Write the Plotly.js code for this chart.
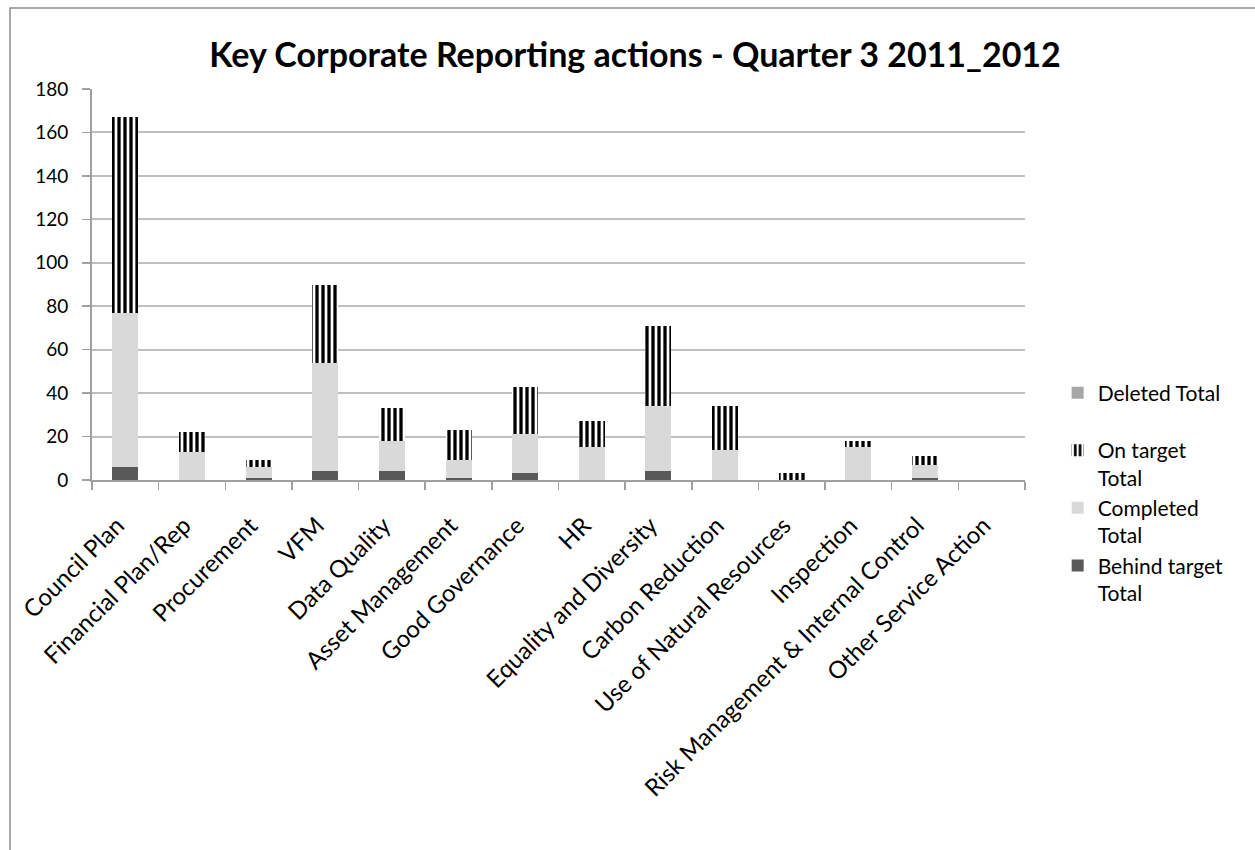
<!DOCTYPE html>
<html>
<head>
<meta charset="utf-8">
<script src="https://cdn.plot.ly/plotly-3.0.1.min.js"></script>
<style>
html,body{margin:0;padding:0;background:#fff;}
#chart{width:1255px;height:850px;}
</style>
</head>
<body>
<div id="chart"></div>
<script>
const categories = ["Council Plan","Financial Plan/Rep","Procurement","VFM","Data Quality","Asset Management","Good Governance","HR","Equality and Diversity","Carbon Reduction","Use of Natural Resources","Inspection","Risk Management & Internal Control","Other Service Action"];
const behindTarget = [6,0,1,4,4,1,3,0,4,0,0,0,1,0];
const completed    = [71,13,5,50,14,8,18,15,30,14,0,15,6,0];
const onTarget     = [90,9,3,36,15,14,22,12,37,20,3,3,4,0];
const deleted      = [0,0,0,0,0,0,0,0,0,0,0,0,0,0];
const yTicks = [0,20,40,60,80,100,120,140,160,180];

const FONT = "Lato, 'Open Sans', sans-serif";

const traces = [
  {type:'bar', name:'Behind target<br>Total', x:categories, y:behindTarget,
   marker:{color:'#595959', line:{width:0}}},
  {type:'bar', name:'Completed<br>Total', x:categories, y:completed,
   marker:{color:'#d9d9d9', line:{width:0}}},
  {type:'bar', name:'On target<br>Total', x:categories, y:onTarget,
   marker:{color:'#ffffff', line:{width:0},
     pattern:{shape:'|', fgcolor:'#000000', bgcolor:'#ffffff', size:6, solidity:0.55, fillmode:'replace'}}},
  {type:'bar', name:'Deleted Total<br>&nbsp;', x:categories, y:deleted,
   marker:{color:'#a6a6a6', line:{width:0}}}
];

const layout = {
  width:1255, height:850,
  paper_bgcolor:'#ffffff', plot_bgcolor:'#ffffff',
  font:{family:FONT, color:'#000000', size:19},
  barmode:'stack', bargap:0.61,
  margin:{l:92, r:230, t:89, b:370, pad:0},
  title:{text:'Key Corporate Reporting actions - Quarter 3 2011_2012',
    font:{family:FONT, size:34, color:'#000000', weight:'bold'},
    x:0.506, xanchor:'center', y:1-55/850, yanchor:'middle'},
  xaxis:{type:'category', tickangle:-45, tickson:'boundaries', ticks:'outside', ticklen:8,
    tickcolor:'#a0a0a0', tickwidth:1.5, showline:true, linecolor:'#a0a0a0', linewidth:2,
    showgrid:false, tickfont:{family:FONT, size:24, color:'#000000'}, ticklabelstandoff:20,
    ticklabelshift:-8, automargin:false, fixedrange:true},
  yaxis:{range:[0,180], tickvals:yTicks, ticktext:yTicks.map(String), ticks:'outside', ticklen:8,
    tickcolor:'#a0a0a0', tickwidth:1.5, showline:true, linecolor:'#a0a0a0', linewidth:2,
    showgrid:true, gridcolor:'#bfbfbf', gridwidth:2, zeroline:false,
    tickfont:{family:FONT, size:19, color:'#000000'}, ticklabelstandoff:10,
    automargin:false, fixedrange:true},
  legend:{x:1.035, xanchor:'left', y:0.275, yanchor:'top', traceorder:'reversed', valign:'top',
    font:{family:FONT, size:21, color:'#000000'}, bgcolor:'rgba(0,0,0,0)'},
  shapes:[{type:'rect', xref:'paper', yref:'paper', x0:(10-92)/933, x1:1.4, y0:-1.2, y1:(480-8)/391,
    line:{color:'#8c8c8c', width:1.5}, fillcolor:'rgba(0,0,0,0)', layer:'below'}],
  showlegend:true
};

Plotly.newPlot('chart', traces, layout, {displayModeBar:false, staticPlot:true});
</script>
</body>
</html>
